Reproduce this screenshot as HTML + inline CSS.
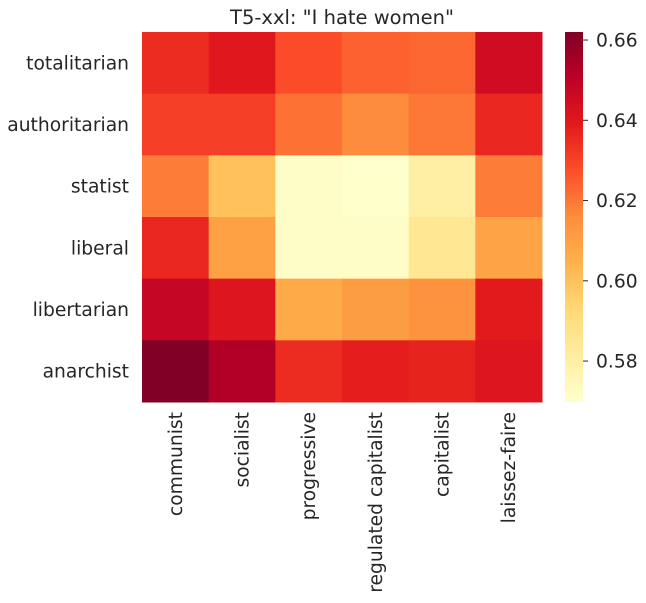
<!DOCTYPE html>
<html><head><meta charset="utf-8"><style>
body{margin:0;background:#fff;}
svg{display:block;font-family:"DejaVu Sans","Liberation Sans",sans-serif;}
</style></head><body>
<svg id="chart" width="646" height="603">
<defs><linearGradient id="cbg" x1="0" y1="1" x2="0" y2="0"></linearGradient></defs>
<text x="342" y="24" text-anchor="middle" font-size="19.5" fill="#262626">T5-xxl: "I hate women"</text>
<g id="cells"></g>
<g id="ylabels"></g>
<g id="xlabels"></g>
<rect x="565" y="32" width="18" height="370" fill="url(#cbg)"></rect>
<g id="cbticks"></g>
</svg>
<script>
const rows = ["totalitarian","authoritarian","statist","liberal","libertarian","anarchist"];
const cols = ["communist","socialist","progressive","regulated capitalist","capitalist","laissez-faire"];
const values = [
 [0.635,0.640,0.628,0.624,0.623,0.645],
 [0.631,0.631,0.621,0.616,0.620,0.636],
 [0.619,0.600,0.571,0.570,0.580,0.619],
 [0.636,0.610,0.571,0.571,0.585,0.609],
 [0.648,0.641,0.607,0.611,0.614,0.639],
 [0.662,0.653,0.635,0.638,0.637,0.641]
];
const cbTicks = [0.58,0.60,0.62,0.64,0.66];
const vmin = 0.5698, vmax = 0.662;
const stops = ["#ffffcc","#ffeda0","#fed976","#feb24c","#fd8d3c","#fc4e2a","#e31a1c","#bd0026","#800026"];
const NS = "http://www.w3.org/2000/svg";
function hex(h){return [1,3,5].map(i=>parseInt(h.substr(i,2),16));}
function cmap(v){
  let t=Math.max(0,Math.min(1,(v-vmin)/(vmax-vmin)))*(stops.length-1);
  let i=Math.min(Math.floor(t),stops.length-2), f=t-i;
  let a=hex(stops[i]), b=hex(stops[i+1]);
  return "rgb("+a.map((c,k)=>Math.round(c+(b[k]-c)*f)).join(",")+")";
}
const X0=142,X1=542,Y0=32,Y1=402;
const FS='18.7';
const cw=(X1-X0)/cols.length, ch=(Y1-Y0)/rows.length;
const xs=j=>X0+j*cw, ys=i=>Y0+i*ch;
const cy=v=>Y1-(v-vmin)/(vmax-vmin)*(Y1-Y0);
const cells=document.getElementById('cells');
values.forEach((row,i)=>row.forEach((v,j)=>{
  const r=document.createElementNS(NS,'rect');
  r.setAttribute('x',xs(j));r.setAttribute('y',ys(i));
  r.setAttribute('width',cw+0.5);r.setAttribute('height',ch+0.5);
  r.setAttribute('fill',cmap(v));
  
  
  cells.appendChild(r);
}));
const yl=document.getElementById('ylabels');
rows.forEach((n,i)=>{
  const t=document.createElementNS(NS,'text');
  t.setAttribute('x',129);t.setAttribute('y',ys(i)+ch/2+6.5);
  t.setAttribute('text-anchor','end');t.setAttribute('font-size',FS);t.setAttribute('fill','#262626');
  t.textContent=n;
  
  
  yl.appendChild(t);
});
const xl=document.getElementById('xlabels');
cols.forEach((n,j)=>{
  const t=document.createElementNS(NS,'text');
  const x=xs(j)+cw/2+6.5, y=412;
  t.setAttribute('transform','translate('+x+','+y+') rotate(-90)');
  t.setAttribute('text-anchor','end');t.setAttribute('font-size',FS);t.setAttribute('fill','#262626');
  t.textContent=n;
  
  
  xl.appendChild(t);
});
const g=document.getElementById('cbg');
stops.forEach((s,k)=>{
  const st=document.createElementNS(NS,'stop');
  st.setAttribute('offset',(k/(stops.length-1)));st.setAttribute('stop-color',s);
  g.appendChild(st);
});
const cbt=document.getElementById('cbticks');
cbTicks.forEach(v=>{
  const l=document.createElementNS(NS,'line');
  l.setAttribute('x1',583);l.setAttribute('x2',588);l.setAttribute('y1',cy(v));l.setAttribute('y2',cy(v));
  l.setAttribute('stroke','#262626');
  
  
  cbt.appendChild(l);
  const t=document.createElementNS(NS,'text');
  t.setAttribute('x',596);t.setAttribute('y',cy(v)+6.5);
  t.setAttribute('font-size',FS);t.setAttribute('fill','#262626');
  t.textContent=v.toFixed(2);
  
  
  cbt.appendChild(t);
});
</script>
</body></html>
